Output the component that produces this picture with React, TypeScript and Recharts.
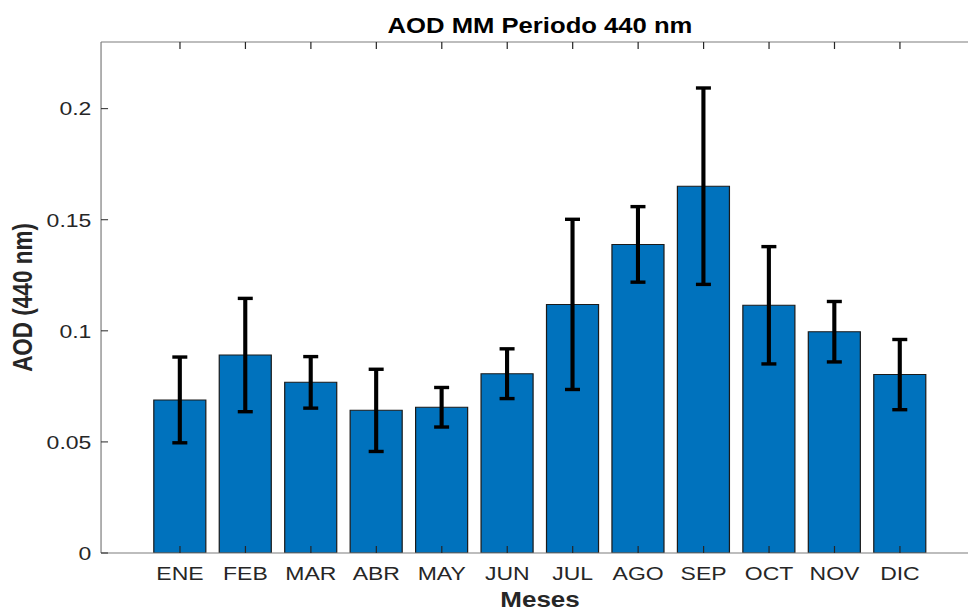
import React from "react";
import { BarChart, Bar, XAxis, YAxis, ErrorBar } from "recharts";

const months = ["ENE", "FEB", "MAR", "ABR", "MAY", "JUN", "JUL", "AGO", "SEP", "OCT", "NOV", "DIC"];
const aod = [0.0689, 0.0891, 0.0768, 0.0642, 0.0656, 0.0807, 0.1119, 0.1389, 0.1651, 0.1115, 0.0996, 0.0803];
const stdDev = [0.0193, 0.0255, 0.0116, 0.0185, 0.0089, 0.0112, 0.0383, 0.017, 0.0442, 0.0264, 0.0136, 0.0158];
const yTicks = [0, 0.05, 0.1, 0.15, 0.2];

const data = months.map((month, i) => ({ month, aod: aod[i], err: stdDev[i] }));

const FONT = "'Liberation Sans', Arial, Helvetica, sans-serif";
const AXIS = "#7d7d7d";
const TICK = "#262626";
// the reference is stretched horizontally, so the whole chart is scaled in x
const STRETCH = 1.21;

const BottomTick = (props: any) => {
  const { x, y, payload } = props;
  return (
    <g>
      <line x1={x} x2={x} y1={y} y2={y - 7} stroke={TICK} strokeWidth={1} />
      <text x={x} y={y + 27} textAnchor="middle" fill={TICK} fontSize={19} fontFamily={FONT}>
        {payload.value}
      </text>
    </g>
  );
};

const TopTick = (props: any) => {
  const { x, y } = props;
  return <line x1={x} x2={x} y1={y} y2={y + 7} stroke={TICK} strokeWidth={1} />;
};

const LeftTick = (props: any) => {
  const { x, y, payload } = props;
  return (
    <g>
      <line x1={x} x2={x + 5.8} y1={y} y2={y} stroke={TICK} strokeWidth={1} />
      <text x={x - 8} y={y + 6.8} textAnchor="end" fill={TICK} fontSize={19} fontFamily={FONT}>
        {String(payload.value)}
      </text>
    </g>
  );
};

const App = () => {
  return (
    <div
      style={{
        position: "fixed",
        left: 0,
        top: 0,
        width: 968,
        height: 613,
        overflow: "hidden",
        background: "#fff",
      }}
    >
      <div style={{ transform: `scaleX(${STRETCH})`, transformOrigin: "0 0", width: 819 }}>
        <BarChart
          width={819}
          height={613}
          data={data}
          margin={{ top: 22, right: 10, bottom: 20, left: 23.5 }}
          barCategoryGap="10%"
        >
          <XAxis
            dataKey="month"
            height={40}
            padding={{ left: 38.2, right: 38.2 }}
            axisLine={{ stroke: AXIS, strokeWidth: 1.2 }}
            tickLine={false}
            tickSize={0}
            tickMargin={0}
            tick={<BottomTick />}
            interval={0}
            label={{
              content: () => (
                <text x={446.3} y={607} textAnchor="middle" fontSize={21.5} fontWeight="bold" fill={TICK} fontFamily={FONT}>
                  Meses
                </text>
              ),
            }}
          />
          <XAxis
            xAxisId="top"
            orientation="top"
            dataKey="month"
            height={20}
            padding={{ left: 38.2, right: 38.2 }}
            axisLine={{ stroke: AXIS, strokeWidth: 1.2 }}
            tickLine={false}
            tickSize={0}
            tickMargin={0}
            tick={<TopTick />}
            interval={0}
            label={{
              content: () => (
                <text x={446.3} y={33} textAnchor="middle" fontSize={21.2} fontWeight="bold" fill="#000" fontFamily={FONT}>
                  AOD MM Periodo 440 nm
                </text>
              ),
            }}
          />
          <YAxis
            width={60}
            domain={[0, 0.23]}
            ticks={yTicks}
            allowDataOverflow
            axisLine={{ stroke: AXIS, strokeWidth: 1 }}
            tickLine={false}
            tickSize={0}
            tickMargin={0}
            tick={<LeftTick />}
            label={{
              content: () => (
                <text
                  x={18.6}
                  y={297.5}
                  dy={7.8}
                  transform="rotate(-90 18.6 297.5)"
                  textAnchor="middle"
                  fontSize={22.5}
                  fontWeight="bold"
                  fill={TICK}
                  fontFamily={FONT}
                >
                  AOD (440 nm)
                </text>
              ),
            }}
          />
          <Bar dataKey="aod" fill="#0072BD" stroke="#1a1a1a" strokeWidth={1} isAnimationActive={false}>
            <ErrorBar
              dataKey="err"
              direction="y"
              width={6.2}
              stroke="#000"
              strokeWidth={3.4}
              isAnimationActive={false}
            />
          </Bar>
        </BarChart>
      </div>
    </div>
  );
};

export default App;
